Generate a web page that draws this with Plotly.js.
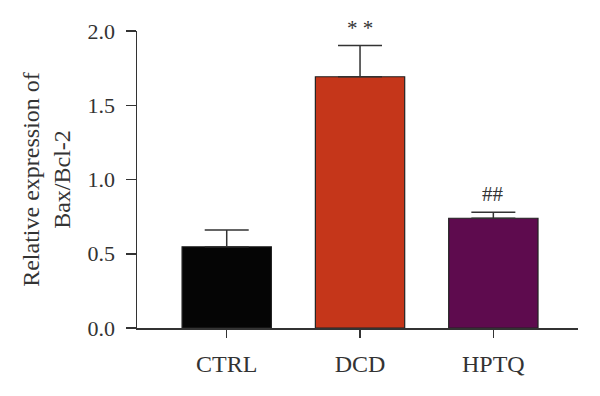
<!DOCTYPE html>
<html>
<head>
<meta charset="utf-8">
<script src="https://cdn.plot.ly/plotly-3.0.1.min.js"></script>
<style>html,body{margin:0;padding:0;background:#fff;}#chart{width:600px;height:396px;}</style>
</head>
<body>
<div id="chart"></div>
<script>
const categories = ["CTRL", "DCD", "HPTQ"];
const values = [0.547, 1.692, 0.739];
const errors = [0.113, 0.21, 0.04];
const barColors = ["#050505", "#C5361A", "#5E0B4E"];
const significance = ["", "* *", "##"];

const trace = {
  type: "bar",
  x: categories,
  y: values,
  width: 0.67,
  marker: {color: barColors, line: {color: "#222", width: 1.2}},
  error_y: {type: "data", array: errors, arrayminus: errors.map(() => 0), symmetric: false,
            color: "#333", thickness: 1.5, width: 22},
  hoverinfo: "none"
};

const annotations = [];
categories.forEach((c, i) => {
  if (significance[i]) {
    annotations.push({x: c, y: values[i] + errors[i], text: significance[i], showarrow: false,
      yanchor: "bottom", yshift: 4, font: {family: "Liberation Serif", size: 21, color: "#333"}});
  }
});

const layout = {
  width: 600, height: 396,
  margin: {l: 137, r: 22, t: 31, b: 68},
  paper_bgcolor: "#fff", plot_bgcolor: "#fff",
  showlegend: false,
  font: {family: "Liberation Serif", size: 19, color: "#333"},
  xaxis: {
    range: [-0.673, 2.635], showline: true, linecolor: "#333", linewidth: 1.5,
    ticks: "outside", ticklen: 8, tickcolor: "#333", tickwidth: 1.5,
    showgrid: false, zeroline: false, fixedrange: true, ticklabelstandoff: 6,
    tickfont: {family: "Liberation Serif", size: 24, color: "#333"}
  },
  yaxis: {
    range: [0, 2.0], tickvals: [0, 0.5, 1.0, 1.5, 2.0], ticktext: ["0.0", "0.5", "1.0", "1.5", "2.0"],
    showline: true, linecolor: "#333", linewidth: 1.5,
    ticks: "outside", ticklen: 10, tickcolor: "#333", tickwidth: 1.5,
    showgrid: false, zeroline: false, fixedrange: true, ticklabelstandoff: 6,
    tickfont: {family: "Liberation Serif", size: 22, color: "#333"},
    title: {text: "Relative expression of<br>Bax/Bcl-2", standoff: 10,
            font: {family: "Liberation Serif", size: 24, color: "#333"}}
  },
  annotations: annotations
};

Plotly.newPlot("chart", [trace], layout, {displayModeBar: false, staticPlot: true});
</script>
</body>
</html>
